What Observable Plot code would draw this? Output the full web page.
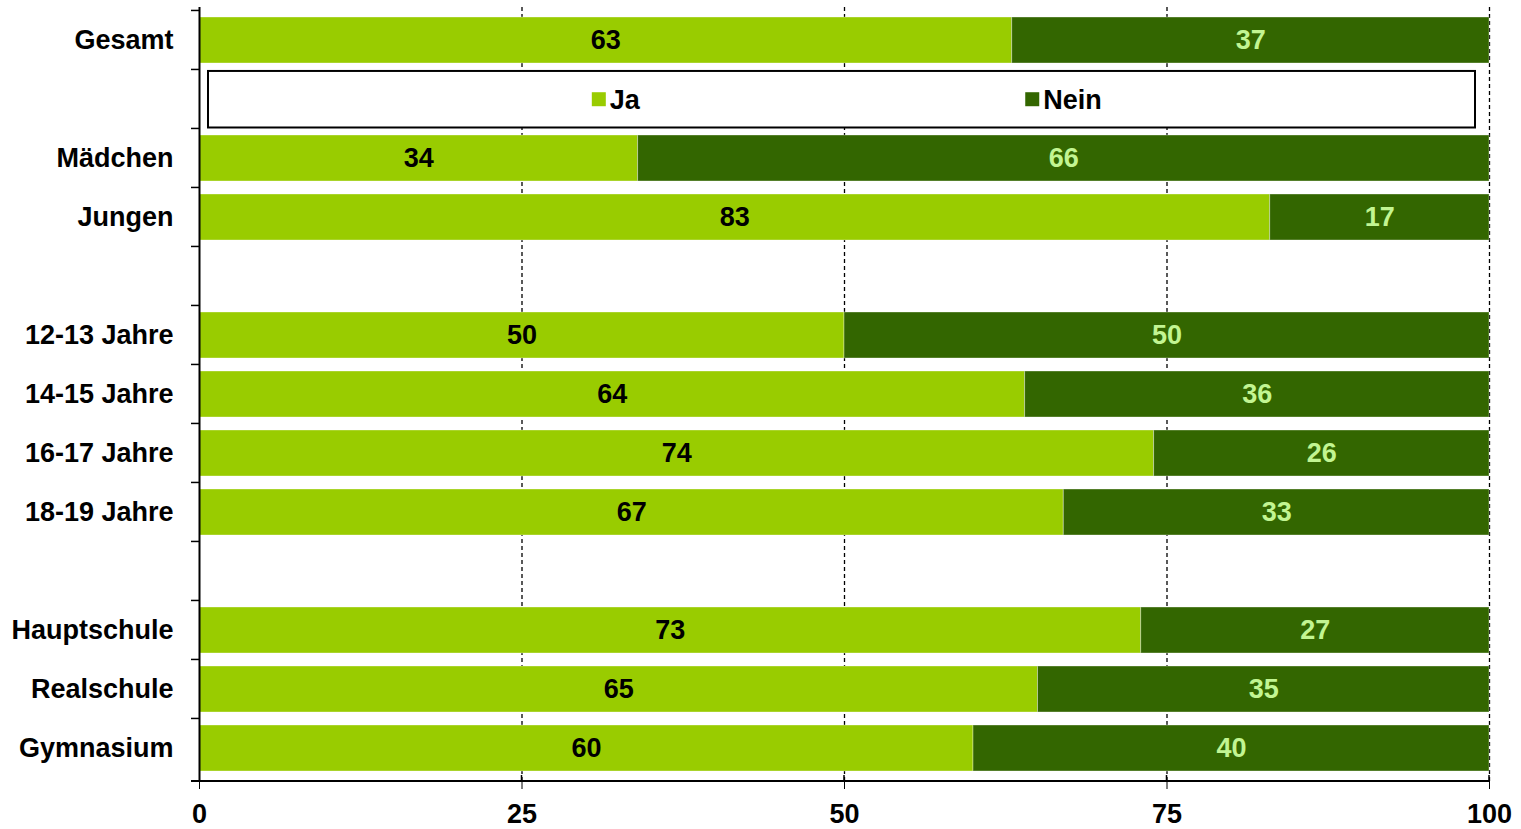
<!DOCTYPE html>
<html>
<head>
<meta charset="utf-8">
<script src="https://cdn.jsdelivr.net/npm/d3@7"></script>
<script src="https://cdn.jsdelivr.net/npm/@observablehq/plot@0.6"></script>
<style>
  html, body { margin: 0; padding: 0; background: #fff; }
  #chart { width: 1521px; height: 829px; }
</style>
</head>
<body>
<div id="chart"></div>
<script>
// ---- data ----
const categories = ["Gesamt", "Mädchen", "Jungen", "12-13 Jahre", "14-15 Jahre", "16-17 Jahre", "18-19 Jahre", "Hauptschule", "Realschule", "Gymnasium"];
const jaValues   = [63, 34, 83, 50, 64, 74, 67, 73, 65, 60];
const neinValues = [37, 66, 17, 50, 36, 26, 33, 27, 35, 40];
const answers = ["Ja", "Nein"];
const xTicks = [0, 25, 50, 75, 100];
// row order, with blank spacer rows (the second row holds the legend)
const rowOrder = ["Gesamt", "_legend", "Mädchen", "Jungen", "_gap1", "12-13 Jahre", "14-15 Jahre", "16-17 Jahre", "18-19 Jahre", "_gap2", "Hauptschule", "Realschule", "Gymnasium"];

const colors = {Ja: "#99cc00", Nein: "#336600"};
const textColors = {Ja: "#000000", Nein: "#c2f592"};
const FONT = "'Liberation Sans', Arial, sans-serif";

const long = [];
categories.forEach((c, i) => {
  long.push({cat: c, answer: "Ja", value: jaValues[i], start: 0});
  long.push({cat: c, answer: "Nein", value: neinValues[i], start: jaValues[i]});
});

const W = 1521, H = 829;
const chart = Plot.plot({
  width: W,
  height: H,
  marginLeft: 199,
  marginRight: 32,
  marginTop: 7,
  marginBottom: 48,
  style: {fontFamily: FONT, fontSize: "27px", fontWeight: "bold", color: "#000", background: "#fff"},
  x: {domain: [0, 100], ticks: xTicks, tickSize: 8, tickPadding: 14, label: null},
  y: {domain: rowOrder, paddingInner: 0.22, paddingOuter: 0.11, tickSize: 0, tickPadding: 26, label: null,
      tickFormat: d => d.startsWith("_") ? "" : d},
  color: {domain: answers, range: answers.map(a => colors[a])},
  marks: [
    Plot.ruleX([25, 50, 75, 100], {stroke: "#000", strokeWidth: 1.3, strokeDasharray: "4,3"}),
    Plot.barX(long, Plot.stackX({x: "value", y: "cat", fill: "answer", order: answers, stroke: "#ffffff", strokeOpacity: 0.35, strokeWidth: 1})),
    Plot.text(long, {
      x: d => d.start + d.value / 2,
      y: "cat",
      text: d => String(d.value),
      fill: d => textColors[d.answer],
      fontSize: 27,
      fontWeight: "bold"
    }),
    Plot.ruleX([0], {stroke: "#000", strokeWidth: 2})
  ]
});

document.getElementById("chart").appendChild(chart);

// --- extras drawn from the library's scales ---
const svg = d3.select(chart.tagName.toLowerCase() === "svg" ? chart : chart.querySelector("svg"));
const xS = chart.scale("x");
const yS = chart.scale("y");
const [y0, y1] = yS.range;
const step = (y1 - y0) / rowOrder.length;
const xLeft = xS.apply(0), xRight = xS.apply(100);
const cellTop = name => yS.apply(name) - step * 0.11;

// y-axis boundary ticks
const g = svg.append("g").attr("stroke", "#000").attr("stroke-width", 1.5);
rowOrder.forEach(r => {
  const y = cellTop(r);
  g.append("line").attr("x1", xLeft - 8).attr("x2", xLeft).attr("y1", y).attr("y2", y);
});
// bottom axis line
svg.append("line").attr("x1", xLeft - 8).attr("x2", xRight).attr("y1", y1).attr("y2", y1)
  .attr("stroke", "#000").attr("stroke-width", 2);
// small crossing ticks above the axis
xTicks.slice(1).forEach(t => {
  svg.append("line").attr("x1", xS.apply(t)).attr("x2", xS.apply(t)).attr("y1", y1 - 6).attr("y2", y1)
    .attr("stroke", "#000").attr("stroke-width", 1.5);
});

// legend box inside the legend row
const lt = cellTop("_legend") + 1.5, lb = lt + step - 3;
const lx1 = xLeft + 9, lx2 = xRight - 14;
const lg = svg.append("g").attr("text-anchor", "start");
lg.append("rect").attr("x", lx1).attr("y", lt).attr("width", lx2 - lx1).attr("height", lb - lt)
  .attr("fill", "#fff").attr("stroke", "#000").attr("stroke-width", 2);
const legendPos = {Ja: 0.3045, Nein: 0.6405};
answers.forEach(a => {
  const x = xLeft + (xRight - xLeft) * legendPos[a];
  const cy = (lt + lb) / 2;
  lg.append("rect").attr("x", x).attr("y", cy - 7).attr("width", 14).attr("height", 14).attr("fill", colors[a]);
  lg.append("text").attr("x", x + 18).attr("y", cy).attr("dy", "0.35em").attr("text-anchor", "start")
    .attr("font-family", FONT).attr("font-size", 27).attr("font-weight", "bold").attr("fill", "#000").text(a);
});
</script>
</body>
</html>
